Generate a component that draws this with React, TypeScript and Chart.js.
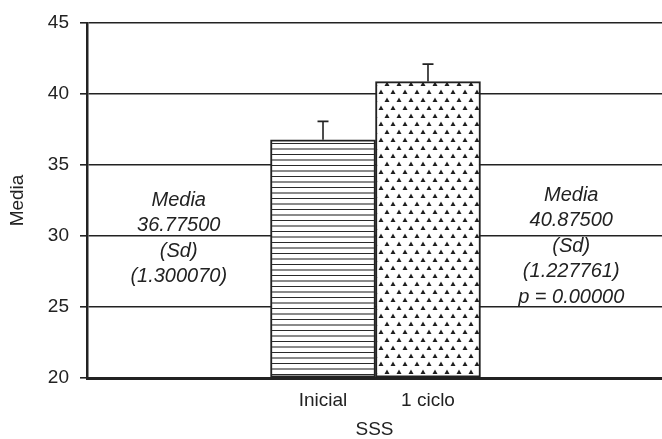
import React, { useEffect, useRef } from "react";
import { Chart, registerables } from "chart.js";

Chart.register(...registerables);

const categories = ["Inicial", "1 ciclo"];
const means = [36.775, 40.875];
const sds = [1.30007, 1.227761];
const yTicks = [20, 25, 30, 35, 40, 45];
const leftNote = ["Media", "36.77500", "(Sd)", "(1.300070)"];
const rightNote = ["Media", "40.87500", "(Sd)", "(1.227761)", "p = 0.00000"];
const xTitle = "SSS";
const yTitle = "Media";

const FONT = "'Liberation Sans', Arial, Helvetica, sans-serif";
const INK = "#222222";

function makeLinePattern(): CanvasPattern | string {
  const c = document.createElement("canvas");
  c.width = 8;
  c.height = 11;
  const g = c.getContext("2d");
  if (!g) return "#fff";
  g.fillStyle = "#ffffff";
  g.fillRect(0, 0, 8, 11);
  g.fillStyle = "#2a2a2a";
  g.fillRect(0, 0, 8, 1);
  g.fillStyle = "#8a8a8a";
  g.fillRect(0, 5, 8, 2);
  return g.createPattern(c, "repeat") || "#fff";
}

function makeDotPattern(): CanvasPattern | string {
  const c = document.createElement("canvas");
  c.width = 12;
  c.height = 16;
  const g = c.getContext("2d");
  if (!g) return "#fff";
  g.fillStyle = "#ffffff";
  g.fillRect(0, 0, 12, 16);
  const tri = (x: number, y: number) => {
    g.fillStyle = "#1e1e1e";
    g.beginPath();
    g.moveTo(x, y - 2.5);
    g.lineTo(x + 2.5, y + 2);
    g.lineTo(x - 2.5, y + 2);
    g.closePath();
    g.fill();
  };
  tri(3, 4);
  tri(9, 12);
  return g.createPattern(c, "repeat") || "#fff";
}

const extrasPlugin = {
  id: "extras",
  afterDatasetsDraw(chart: any) {
    const ctx = chart.ctx;
    const meta = chart.getDatasetMeta(0);
    const ys = chart.scales.y;
    const area = chart.chartArea;
    ctx.save();
    // error bars (upward only)
    ctx.strokeStyle = INK;
    ctx.lineWidth = 1.6;
    meta.data.forEach((bar: any, i: number) => {
      const top = ys.getPixelForValue(means[i]);
      const end = ys.getPixelForValue(means[i] + sds[i]);
      ctx.beginPath();
      ctx.moveTo(bar.x, top);
      ctx.lineTo(bar.x, end);
      ctx.moveTo(bar.x - 5.5, end);
      ctx.lineTo(bar.x + 5.5, end);
      ctx.stroke();
    });
    // annotations
    const b0 = meta.data[0];
    const b1 = meta.data[meta.data.length - 1];
    const leftX = (area.left + (b0.x - b0.width / 2)) / 2;
    const rightX = ((b1.x + b1.width / 2) + area.right) / 2;
    ctx.fillStyle = INK;
    ctx.font = `italic 20px ${FONT}`;
    ctx.textAlign = "center";
    ctx.textBaseline = "middle";
    leftNote.forEach((t, i) => {
      ctx.fillText(t, leftX, area.top + 177 + i * 25.5);
    });
    rightNote.forEach((t, i) => {
      ctx.fillText(t, rightX, area.top + 172 + i * 25.5);
    });
    ctx.restore();
  },
};

export default function App() {
  const ref = useRef<HTMLCanvasElement>(null);
  useEffect(() => {
    if (!ref.current) return;
    const linePat = makeLinePattern();
    const dotPat = makeDotPattern();
    const chart = new Chart(ref.current, {
      type: "bar",
      data: {
        datasets: [
          {
            data: means.map((v, i) => ({ x: i, y: v })),
            backgroundColor: [linePat, dotPat] as any,
            borderColor: INK,
            borderWidth: 2,
            borderSkipped: false,
            base: 20,
            barPercentage: 1,
            categoryPercentage: 1,
          } as any,
        ],
      },
      options: {
        animation: false,
        responsive: false,
        maintainAspectRatio: false,
        layout: { padding: { top: 23, right: 0, left: 0, bottom: 0 } },
        plugins: {
          legend: { display: false },
          tooltip: { enabled: false },
        },
        scales: {
          x: {
            type: "linear",
            min: -2.248,
            max: 3.229,
            offset: false,
            grid: { display: false, offset: false },
            border: { display: true, color: INK, width: 3 },
            afterBuildTicks: (s: any) => {
              s.ticks = categories.map((_, i) => ({ value: i }));
            },
            afterFit: (s: any) => {
              s.height = 61;
            },
            ticks: {
              color: INK,
              font: { family: FONT, size: 19 },
              padding: 3,
              maxRotation: 0,
              autoSkip: false,
              callback: (v: any) => categories[v as number] ?? "",
            },
            title: {
              display: true,
              text: xTitle,
              color: INK,
              font: { family: FONT, size: 19, lineHeight: 1 },
              padding: { top: 0, bottom: 0 },
            },
          },
          y: {
            type: "linear",
            min: yTicks[0],
            max: yTicks[yTicks.length - 1],
            afterBuildTicks: (s: any) => {
              s.ticks = yTicks.map((v) => ({ value: v }));
            },
            afterFit: (s: any) => {
              s.width = 87;
            },
            grid: {
              color: INK,
              lineWidth: 1.6,
              drawTicks: true,
              tickLength: 7,
              tickColor: INK,
              tickWidth: 1.6,
            },
            border: { display: true, color: INK, width: 2.5 },
            ticks: {
              color: INK,
              font: { family: FONT, size: 19 },
              padding: 11,
            },
            title: {
              display: true,
              text: yTitle,
              color: INK,
              font: { family: FONT, size: 19, lineHeight: 1.2 },
              padding: { top: 6, bottom: 0 },
            },
          },
        },
      },
      plugins: [extrasPlugin],
    });
    return () => chart.destroy();
  }, []);
  return (
    <div style={{ position: "fixed", left: 0, top: 0, width: 662, height: 439, background: "#fff" }}>
      <canvas ref={ref} width={662} height={439} style={{ width: 662, height: 439, display: "block" }} />
    </div>
  );
}
